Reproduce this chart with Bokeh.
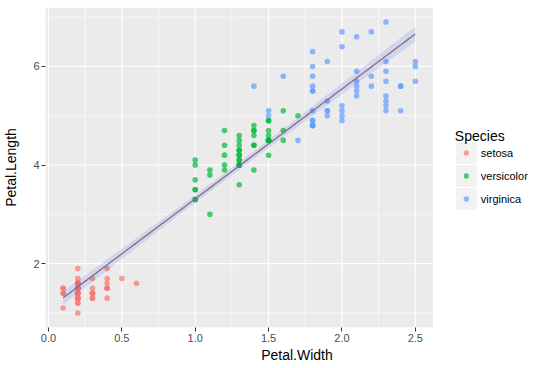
import numpy as np
from bokeh.plotting import figure
from bokeh.models import Range1d, FixedTicker, ColumnDataSource
from bokeh.core.properties import value
from bokeh.embed import file_html
from bokeh.resources import INLINE

species = ["setosa", "versicolor", "virginica"]
colors = ["#F8766D", "#00BA38", "#619CFF"]

setosa_width = [0.2,0.2,0.2,0.2,0.2,0.4,0.3,0.2,0.2,0.1,0.2,0.2,0.1,0.1,0.2,0.4,0.4,0.3,0.3,0.3,
                0.2,0.4,0.2,0.5,0.2,0.2,0.4,0.2,0.2,0.2,0.2,0.4,0.1,0.2,0.2,0.2,0.2,0.1,0.2,0.2,
                0.3,0.3,0.2,0.6,0.4,0.3,0.2,0.2,0.2,0.2]
setosa_length = [1.4,1.4,1.3,1.5,1.4,1.7,1.4,1.5,1.4,1.5,1.5,1.6,1.4,1.1,1.2,1.5,1.3,1.4,1.7,1.5,
                 1.7,1.5,1.0,1.7,1.9,1.6,1.6,1.5,1.4,1.6,1.6,1.5,1.5,1.4,1.5,1.2,1.3,1.4,1.3,1.5,
                 1.3,1.3,1.3,1.6,1.9,1.4,1.6,1.4,1.5,1.4]
versicolor_width = [1.4,1.5,1.5,1.3,1.5,1.3,1.6,1.0,1.3,1.4,1.0,1.5,1.0,1.4,1.3,1.4,1.5,1.0,1.5,1.1,
                    1.8,1.3,1.5,1.2,1.3,1.4,1.4,1.7,1.5,1.0,1.1,1.0,1.2,1.6,1.5,1.6,1.5,1.3,1.3,1.3,
                    1.2,1.4,1.2,1.0,1.3,1.2,1.3,1.3,1.1,1.3]
versicolor_length = [4.7,4.5,4.9,4.0,4.6,4.5,4.7,3.3,4.6,3.9,3.5,4.2,4.0,4.7,3.6,4.4,4.5,4.1,4.5,3.9,
                     4.8,4.0,4.9,4.7,4.3,4.4,4.8,5.0,4.5,3.5,3.8,3.7,3.9,5.1,4.5,4.5,4.7,4.4,4.1,4.0,
                     4.4,4.6,4.0,3.3,4.2,4.2,4.2,4.3,3.0,4.1]
virginica_width = [2.5,1.9,2.1,1.8,2.2,2.1,1.7,1.8,1.8,2.5,2.0,1.9,2.1,2.0,2.4,2.3,1.8,2.2,2.3,1.5,
                   2.3,2.0,2.0,1.8,2.1,1.8,1.8,1.8,2.1,1.6,1.9,2.0,2.2,1.5,1.4,2.3,2.4,1.8,1.8,2.1,
                   2.4,2.3,1.9,2.3,2.5,2.3,1.9,2.0,2.3,1.8]
virginica_length = [6.0,5.1,5.9,5.6,5.8,6.6,4.5,6.3,5.8,6.1,5.1,5.3,5.5,5.0,5.1,5.3,5.5,6.7,6.9,5.0,
                    5.7,4.9,6.7,4.9,5.7,6.0,4.8,4.9,5.6,5.8,6.1,6.4,5.6,5.1,5.6,6.1,5.6,5.5,4.8,5.4,
                    5.6,5.1,5.1,5.9,5.7,5.2,5.0,5.2,5.4,5.1]

x_ticks = [0.0, 0.5, 1.0, 1.5, 2.0, 2.5]
x_tick_labels = ["0.0", "0.5", "1.0", "1.5", "2.0", "2.5"]
x_minor = [0.25, 0.75, 1.25, 1.75, 2.25]
y_ticks = [2, 4, 6]
y_minor = [1, 3, 5, 7]
legend_title = "Species"

widths = [setosa_width, versicolor_width, virginica_width]
lengths = [setosa_length, versicolor_length, virginica_length]

FONT = "Liberation Sans"

# figure geometry (page pixels)
W, H = 548, 368
F_LEFT, F_TOP, F_BOTTOM = 43, 7, 327
PANEL_RIGHT = 432
# panel data extent
X0, X1 = -0.02, 2.62
Y0, Y1 = 0.705, 7.195
xr_end = X0 + (X1 - X0) * (W - F_LEFT) / (PANEL_RIGHT - F_LEFT)

p = figure(width=W, height=H, output_backend="svg", toolbar_location=None,
           x_range=Range1d(X0, xr_end), y_range=Range1d(Y0, Y1),
           min_border_left=F_LEFT, min_border_right=0, min_border_top=F_TOP,
           min_border_bottom=H - F_BOTTOM)
p.background_fill_color = "white"
p.border_fill_color = "white"
p.outline_line_color = None
p.grid.visible = False

p.xaxis.ticker = FixedTicker(ticks=x_ticks)
p.yaxis.ticker = FixedTicker(ticks=y_ticks)
p.xaxis.major_label_overrides = {t: l for t, l in zip(x_ticks, x_tick_labels)}
p.xaxis.bounds = (X0, X1)
for ax in [p.xaxis, p.yaxis]:
    ax.axis_line_color = None
    ax.major_tick_line_color = "#333333"
    ax.major_tick_in = 0
    ax.major_tick_out = 4
    ax.minor_tick_line_color = None
    ax.major_label_text_font = FONT
    ax.major_label_text_font_size = "11px"
    ax.major_label_text_color = "#4D4D4D"
    ax.major_label_standoff = 2
    ax.axis_label_text_font = FONT
    ax.axis_label_text_font_size = "14px"
    ax.axis_label_text_font_style = "normal"
    ax.axis_label_text_color = "black"
p.xaxis.axis_label_standoff = 2
p.yaxis.axis_label_standoff = 11
p.xaxis.axis_label = "Petal.Width"
p.yaxis.axis_label = "Petal.Length"

# grey panel + white grid lines
p.quad(left=[X0], right=[X1], bottom=[Y0], top=[Y1], fill_color="#EBEBEB", line_color=None)
p.segment(x0=x_minor, x1=x_minor, y0=[Y0] * len(x_minor), y1=[Y1] * len(x_minor),
          line_color="white", line_width=0.55)
p.segment(x0=[X0] * len(y_minor), x1=[X1] * len(y_minor), y0=y_minor, y1=y_minor,
          line_color="white", line_width=0.55)
p.segment(x0=x_ticks, x1=x_ticks, y0=[Y0] * len(x_ticks), y1=[Y1] * len(x_ticks),
          line_color="white", line_width=1.1)
p.segment(x0=[X0] * len(y_ticks), x1=[X1] * len(y_ticks), y0=y_ticks, y1=y_ticks,
          line_color="white", line_width=1.1)

for w, l, c in zip(widths, lengths, colors):
    p.scatter(w, l, size=5.6, fill_color=c, fill_alpha=0.7, line_color=None)

# linear fit with 95% confidence band (like geom_smooth(method="lm"))
all_w = np.array(setosa_width + versicolor_width + virginica_width)
all_l = np.array(setosa_length + versicolor_length + virginica_length)
n = len(all_w)
slope, intercept = np.polyfit(all_w, all_l, 1)
resid = all_l - (intercept + slope * all_w)
s = np.sqrt(np.sum(resid ** 2) / (n - 2))
xm = all_w.mean()
sxx = np.sum((all_w - xm) ** 2)
xs = np.linspace(all_w.min(), all_w.max(), 80)
fit = intercept + slope * xs
se = s * np.sqrt(1.0 / n + (xs - xm) ** 2 / sxx)
tq = 1.976
band = ColumnDataSource(dict(x=xs, lo=fit - tq * se, hi=fit + tq * se, y=fit))
p.varea(x="x", y1="lo", y2="hi", source=band, fill_color="#3333FF", fill_alpha=0.13)
p.line(x="x", y="y", source=band, line_color="#777777", line_width=1.3)

# legend, drawn in page-pixel coordinates
p.extra_x_ranges = {"px": Range1d(F_LEFT, W)}
p.extra_y_ranges = {"px": Range1d(F_BOTTOM, F_TOP)}
key_x = 465.5
key_y = [152.5, 175.5, 198.5]
p.rect(x=[key_x] * 3, y=key_y, width=22, height=23, fill_color="#F2F2F2", line_color="white",
       line_width=1, x_range_name="px", y_range_name="px")
p.scatter(x=[key_x] * 3, y=key_y, size=5.3, fill_color=colors, fill_alpha=0.7, line_color=None,
          x_range_name="px", y_range_name="px")
p.text(x=[480] * 3, y=key_y, text=species, text_font=value(FONT), text_font_size="11px",
       text_color="black", text_baseline="middle", x_range_name="px", y_range_name="px")
p.text(x=[454], y=[135], text=[legend_title], text_font=value(FONT), text_font_size="14px",
       text_color="black", text_baseline="alphabetic", x_range_name="px", y_range_name="px")

open("out.html", "w").write(file_html(p, INLINE))
